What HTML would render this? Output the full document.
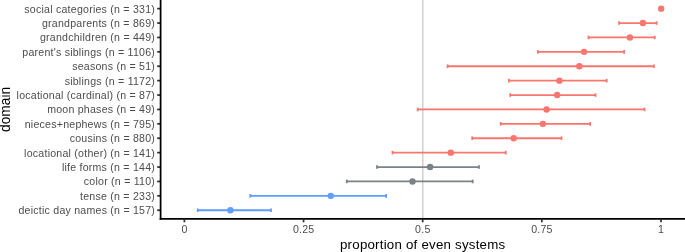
<!DOCTYPE html><html><head><meta charset="utf-8"><style>html,body{margin:0;padding:0;background:#fff;width:685px;height:252px;overflow:hidden}svg{display:block}text.g{will-change:transform}text{font-family:"Liberation Sans",sans-serif}</style></head><body>
<svg width="685" height="252" viewBox="0 0 685 252">
<rect width="685" height="252" fill="#fff"/>
<line x1="422.75" y1="0" x2="422.75" y2="218.90" stroke="#D2D2D2" stroke-width="1.6"/>
<circle cx="661.20" cy="8.64" r="3.2" fill="#F8766D"/>
<line x1="157.20" y1="8.64" x2="160.60" y2="8.64" stroke="#333" stroke-width="1.75"/>
<text class="g" x="155.10" y="12.54" font-size="10.6" letter-spacing="0.23" fill="#4D4D4D" text-anchor="end">social categories (n = 331)</text>
<line x1="619.10" y1="23.04" x2="656.60" y2="23.04" stroke="#F8766D" stroke-width="1.8"/>
<line x1="619.10" y1="21.24" x2="619.10" y2="24.84" stroke="#F8766D" stroke-width="1.8"/>
<line x1="656.60" y1="21.24" x2="656.60" y2="24.84" stroke="#F8766D" stroke-width="1.8"/>
<circle cx="642.90" cy="23.04" r="3.2" fill="#F8766D"/>
<line x1="157.20" y1="23.04" x2="160.60" y2="23.04" stroke="#333" stroke-width="1.75"/>
<text class="g" x="155.10" y="26.94" font-size="10.6" letter-spacing="0.23" fill="#4D4D4D" text-anchor="end">grandparents (n = 869)</text>
<line x1="588.50" y1="37.44" x2="654.70" y2="37.44" stroke="#F8766D" stroke-width="1.8"/>
<line x1="588.50" y1="35.64" x2="588.50" y2="39.24" stroke="#F8766D" stroke-width="1.8"/>
<line x1="654.70" y1="35.64" x2="654.70" y2="39.24" stroke="#F8766D" stroke-width="1.8"/>
<circle cx="629.90" cy="37.44" r="3.2" fill="#F8766D"/>
<line x1="157.20" y1="37.44" x2="160.60" y2="37.44" stroke="#333" stroke-width="1.75"/>
<text class="g" x="155.10" y="41.34" font-size="10.6" letter-spacing="0.23" fill="#4D4D4D" text-anchor="end">grandchildren (n = 449)</text>
<line x1="537.80" y1="51.84" x2="624.10" y2="51.84" stroke="#F8766D" stroke-width="1.8"/>
<line x1="537.80" y1="50.04" x2="537.80" y2="53.64" stroke="#F8766D" stroke-width="1.8"/>
<line x1="624.10" y1="50.04" x2="624.10" y2="53.64" stroke="#F8766D" stroke-width="1.8"/>
<circle cx="584.10" cy="51.84" r="3.2" fill="#F8766D"/>
<line x1="157.20" y1="51.84" x2="160.60" y2="51.84" stroke="#333" stroke-width="1.75"/>
<text class="g" x="155.10" y="55.74" font-size="10.6" letter-spacing="0.23" fill="#4D4D4D" text-anchor="end">parent&#39;s siblings (n = 1106)</text>
<line x1="447.60" y1="66.24" x2="653.90" y2="66.24" stroke="#F8766D" stroke-width="1.8"/>
<line x1="447.60" y1="64.44" x2="447.60" y2="68.04" stroke="#F8766D" stroke-width="1.8"/>
<line x1="653.90" y1="64.44" x2="653.90" y2="68.04" stroke="#F8766D" stroke-width="1.8"/>
<circle cx="579.30" cy="66.24" r="3.2" fill="#F8766D"/>
<line x1="157.20" y1="66.24" x2="160.60" y2="66.24" stroke="#333" stroke-width="1.75"/>
<text class="g" x="155.10" y="70.14" font-size="10.6" letter-spacing="0.23" fill="#4D4D4D" text-anchor="end">seasons (n = 51)</text>
<line x1="508.90" y1="80.64" x2="606.70" y2="80.64" stroke="#F8766D" stroke-width="1.8"/>
<line x1="508.90" y1="78.84" x2="508.90" y2="82.44" stroke="#F8766D" stroke-width="1.8"/>
<line x1="606.70" y1="78.84" x2="606.70" y2="82.44" stroke="#F8766D" stroke-width="1.8"/>
<circle cx="559.40" cy="80.64" r="3.2" fill="#F8766D"/>
<line x1="157.20" y1="80.64" x2="160.60" y2="80.64" stroke="#333" stroke-width="1.75"/>
<text class="g" x="155.10" y="84.54" font-size="10.6" letter-spacing="0.23" fill="#4D4D4D" text-anchor="end">siblings (n = 1172)</text>
<line x1="510.20" y1="95.04" x2="595.50" y2="95.04" stroke="#F8766D" stroke-width="1.8"/>
<line x1="510.20" y1="93.24" x2="510.20" y2="96.84" stroke="#F8766D" stroke-width="1.8"/>
<line x1="595.50" y1="93.24" x2="595.50" y2="96.84" stroke="#F8766D" stroke-width="1.8"/>
<circle cx="557.20" cy="95.04" r="3.2" fill="#F8766D"/>
<line x1="157.20" y1="95.04" x2="160.60" y2="95.04" stroke="#333" stroke-width="1.75"/>
<text class="g" x="155.10" y="98.94" font-size="10.6" letter-spacing="0.23" fill="#4D4D4D" text-anchor="end">locational (cardinal) (n = 87)</text>
<line x1="417.70" y1="109.44" x2="644.50" y2="109.44" stroke="#F8766D" stroke-width="1.8"/>
<line x1="417.70" y1="107.64" x2="417.70" y2="111.24" stroke="#F8766D" stroke-width="1.8"/>
<line x1="644.50" y1="107.64" x2="644.50" y2="111.24" stroke="#F8766D" stroke-width="1.8"/>
<circle cx="546.60" cy="109.44" r="3.2" fill="#F8766D"/>
<line x1="157.20" y1="109.44" x2="160.60" y2="109.44" stroke="#333" stroke-width="1.75"/>
<text class="g" x="155.10" y="113.34" font-size="10.6" letter-spacing="0.23" fill="#4D4D4D" text-anchor="end">moon phases (n = 49)</text>
<line x1="500.70" y1="123.84" x2="590.10" y2="123.84" stroke="#F8766D" stroke-width="1.8"/>
<line x1="500.70" y1="122.04" x2="500.70" y2="125.64" stroke="#F8766D" stroke-width="1.8"/>
<line x1="590.10" y1="122.04" x2="590.10" y2="125.64" stroke="#F8766D" stroke-width="1.8"/>
<circle cx="542.90" cy="123.84" r="3.2" fill="#F8766D"/>
<line x1="157.20" y1="123.84" x2="160.60" y2="123.84" stroke="#333" stroke-width="1.75"/>
<text class="g" x="155.10" y="127.74" font-size="10.6" letter-spacing="0.23" fill="#4D4D4D" text-anchor="end">nieces+nephews (n = 795)</text>
<line x1="472.20" y1="138.24" x2="561.50" y2="138.24" stroke="#F8766D" stroke-width="1.8"/>
<line x1="472.20" y1="136.44" x2="472.20" y2="140.04" stroke="#F8766D" stroke-width="1.8"/>
<line x1="561.50" y1="136.44" x2="561.50" y2="140.04" stroke="#F8766D" stroke-width="1.8"/>
<circle cx="513.70" cy="138.24" r="3.2" fill="#F8766D"/>
<line x1="157.20" y1="138.24" x2="160.60" y2="138.24" stroke="#333" stroke-width="1.75"/>
<text class="g" x="155.10" y="142.14" font-size="10.6" letter-spacing="0.23" fill="#4D4D4D" text-anchor="end">cousins (n = 880)</text>
<line x1="392.50" y1="152.64" x2="505.80" y2="152.64" stroke="#F8766D" stroke-width="1.8"/>
<line x1="392.50" y1="150.84" x2="392.50" y2="154.44" stroke="#F8766D" stroke-width="1.8"/>
<line x1="505.80" y1="150.84" x2="505.80" y2="154.44" stroke="#F8766D" stroke-width="1.8"/>
<circle cx="450.80" cy="152.64" r="3.2" fill="#F8766D"/>
<line x1="157.20" y1="152.64" x2="160.60" y2="152.64" stroke="#333" stroke-width="1.75"/>
<text class="g" x="155.10" y="156.54" font-size="10.6" letter-spacing="0.23" fill="#4D4D4D" text-anchor="end">locational (other) (n = 141)</text>
<line x1="377.00" y1="167.04" x2="479.00" y2="167.04" stroke="#7B8287" stroke-width="1.8"/>
<line x1="377.00" y1="165.24" x2="377.00" y2="168.84" stroke="#7B8287" stroke-width="1.8"/>
<line x1="479.00" y1="165.24" x2="479.00" y2="168.84" stroke="#7B8287" stroke-width="1.8"/>
<circle cx="430.10" cy="167.04" r="3.2" fill="#7B8287"/>
<line x1="157.20" y1="167.04" x2="160.60" y2="167.04" stroke="#333" stroke-width="1.75"/>
<text class="g" x="155.10" y="170.94" font-size="10.6" letter-spacing="0.23" fill="#4D4D4D" text-anchor="end">life forms (n = 144)</text>
<line x1="346.80" y1="181.44" x2="472.70" y2="181.44" stroke="#7B8287" stroke-width="1.8"/>
<line x1="346.80" y1="179.64" x2="346.80" y2="183.24" stroke="#7B8287" stroke-width="1.8"/>
<line x1="472.70" y1="179.64" x2="472.70" y2="183.24" stroke="#7B8287" stroke-width="1.8"/>
<circle cx="412.50" cy="181.44" r="3.2" fill="#7B8287"/>
<line x1="157.20" y1="181.44" x2="160.60" y2="181.44" stroke="#333" stroke-width="1.75"/>
<text class="g" x="155.10" y="185.34" font-size="10.6" letter-spacing="0.23" fill="#4D4D4D" text-anchor="end">color (n = 110)</text>
<line x1="250.30" y1="195.84" x2="386.10" y2="195.84" stroke="#619CFF" stroke-width="1.8"/>
<line x1="250.30" y1="194.04" x2="250.30" y2="197.64" stroke="#619CFF" stroke-width="1.8"/>
<line x1="386.10" y1="194.04" x2="386.10" y2="197.64" stroke="#619CFF" stroke-width="1.8"/>
<circle cx="330.80" cy="195.84" r="3.2" fill="#619CFF"/>
<line x1="157.20" y1="195.84" x2="160.60" y2="195.84" stroke="#333" stroke-width="1.75"/>
<text class="g" x="155.10" y="199.74" font-size="10.6" letter-spacing="0.23" fill="#4D4D4D" text-anchor="end">tense (n = 233)</text>
<line x1="197.70" y1="210.24" x2="271.00" y2="210.24" stroke="#619CFF" stroke-width="1.8"/>
<line x1="197.70" y1="208.44" x2="197.70" y2="212.04" stroke="#619CFF" stroke-width="1.8"/>
<line x1="271.00" y1="208.44" x2="271.00" y2="212.04" stroke="#619CFF" stroke-width="1.8"/>
<circle cx="230.40" cy="210.24" r="3.2" fill="#619CFF"/>
<line x1="157.20" y1="210.24" x2="160.60" y2="210.24" stroke="#333" stroke-width="1.75"/>
<text class="g" x="155.10" y="214.14" font-size="10.6" letter-spacing="0.23" fill="#4D4D4D" text-anchor="end">deictic day names (n = 157)</text>
<line x1="160.60" y1="0" x2="160.60" y2="219.78" stroke="#000" stroke-width="1.75"/>
<line x1="159.72" y1="218.90" x2="685" y2="218.90" stroke="#000" stroke-width="1.75"/>
<line x1="184.40" y1="218.90" x2="184.40" y2="222.30" stroke="#333" stroke-width="1.75"/>
<text class="g" x="184.52" y="233.05" font-size="10.6" letter-spacing="0.23" fill="#4D4D4D" text-anchor="middle">0</text>
<line x1="303.55" y1="218.90" x2="303.55" y2="222.30" stroke="#333" stroke-width="1.75"/>
<text class="g" x="303.67" y="233.05" font-size="10.6" letter-spacing="0.23" fill="#4D4D4D" text-anchor="middle">0.25</text>
<line x1="422.70" y1="218.90" x2="422.70" y2="222.30" stroke="#333" stroke-width="1.75"/>
<text class="g" x="422.82" y="233.05" font-size="10.6" letter-spacing="0.23" fill="#4D4D4D" text-anchor="middle">0.5</text>
<line x1="541.85" y1="218.90" x2="541.85" y2="222.30" stroke="#333" stroke-width="1.75"/>
<text class="g" x="541.97" y="233.05" font-size="10.6" letter-spacing="0.23" fill="#4D4D4D" text-anchor="middle">0.75</text>
<line x1="661.00" y1="218.90" x2="661.00" y2="222.30" stroke="#333" stroke-width="1.75"/>
<text class="g" x="661.12" y="233.05" font-size="10.6" letter-spacing="0.23" fill="#4D4D4D" text-anchor="middle">1</text>
<text class="g" x="422.70" y="248.9" font-size="13.3" letter-spacing="0.22" fill="#000" text-anchor="middle">proportion of even systems</text>
<text transform="translate(10.4,109.45) rotate(-90)" x="0" y="0" font-size="13.75" fill="#000" style="filter:grayscale(1)" text-anchor="middle">domain</text>
</svg></body></html>
